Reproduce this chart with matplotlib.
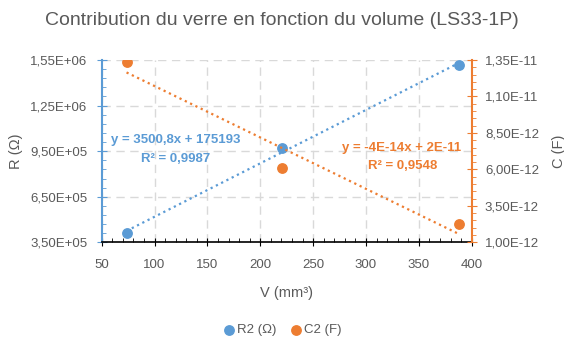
import numpy as np
import matplotlib
matplotlib.use("Agg")
import matplotlib.pyplot as plt
from matplotlib.ticker import FixedLocator, MultipleLocator, FuncFormatter

plt.rcParams['font.family'] = ['Liberation Sans', 'DejaVu Sans']

# données
volume = [73.5, 221, 387.5]
r2 = [4.10e5, 9.72e5, 1.516e6]
c2 = [1.338e-11, 6.07e-12, 2.23e-12]
r_ticks = [3.5e5, 6.5e5, 9.5e5, 1.25e6, 1.55e6]
c_ticks = [1.0e-12, 3.5e-12, 6.0e-12, 8.5e-12, 1.1e-11, 1.35e-11]
eq_r = "y = 3500,8x + 175193"
r2_r = "R² = 0,9987"
eq_c = "y = -4E-14x + 2E-11"
r2_c = "R² = 0,9548"

blue = '#5B9BD5'
orange = '#ED7D31'
grey = '#595959'

def fmt(v, pos):
    return f"{v:.2E}".replace('.', ',')

fig = plt.figure(figsize=(5.64, 3.43), dpi=100)
ax1 = fig.add_axes([0.1803, 0.2936, 0.6561, 0.5314])
ax2 = ax1.twinx()

ax1.scatter(volume, r2, s=46, color=blue, zorder=3, label='R2 (Ω)')
ax2.scatter(volume, c2, s=46, color=orange, zorder=3, label='C2 (F)')

# courbes de tendance linéaires
xs = np.array([min(volume), max(volume)])
p1 = np.polyfit(volume, r2, 1)
p2 = np.polyfit(volume, c2, 1)
ax1.plot(xs, np.polyval(p1, xs), ':', color=blue, lw=1.6)
ax2.plot(xs, np.polyval(p2, xs), ':', color=orange, lw=1.6)

ax1.set_xlim(50, 400)
ax1.set_ylim(r_ticks[0], r_ticks[-1])
ax2.set_ylim(c_ticks[0], c_ticks[-1])
ax1.xaxis.set_major_locator(MultipleLocator(50))
ax1.xaxis.set_minor_locator(MultipleLocator(10))
ax1.yaxis.set_major_locator(FixedLocator(r_ticks))
ax1.yaxis.set_minor_locator(FixedLocator(np.linspace(r_ticks[0], r_ticks[-1], 21)))
ax2.yaxis.set_major_locator(FixedLocator(c_ticks))
ax2.yaxis.set_minor_locator(FixedLocator(np.linspace(c_ticks[0], c_ticks[-1], 26)))
ax1.yaxis.set_major_formatter(FuncFormatter(fmt))
ax2.yaxis.set_major_formatter(FuncFormatter(fmt))

ax1.grid(True, which='major', color='#D9D9D9', ls=(0, (6, 4)), lw=1)
ax1.set_axisbelow(True)

ax1.spines['top'].set_visible(False)
ax2.spines['top'].set_visible(False)
ax1.spines['left'].set_color(blue)
ax1.spines['left'].set_linewidth(1.5)
ax2.spines['left'].set_visible(False)
ax2.spines['right'].set_color(orange)
ax2.spines['right'].set_linewidth(1.5)
ax1.spines['right'].set_visible(False)
ax2.spines['bottom'].set_visible(False)
ax1.spines['bottom'].set_color('black')
ax1.spines['bottom'].set_linewidth(1.2)

ax1.tick_params(axis='x', which='major', direction='inout', length=6, color='black', labelsize=9.5, labelcolor=grey, pad=9)
ax1.tick_params(axis='x', which='minor', direction='in', length=3, color='black')
ax1.tick_params(axis='y', which='major', direction='inout', length=7, color=blue, labelsize=9.5, labelcolor=grey, pad=7)
ax1.tick_params(axis='y', which='minor', direction='in', length=3, color=blue)
ax2.tick_params(axis='y', which='major', direction='inout', length=7, color=orange, labelsize=9.5, labelcolor=grey, pad=6)
ax2.tick_params(axis='y', which='minor', direction='out', length=3, color=orange)

ax1.set_xlabel('V (mm³)', fontsize=10.5, color=grey, labelpad=11)
ax1.set_ylabel('R (Ω)', fontsize=10.5, color=grey, labelpad=5)
ax2.set_ylabel('C (F)', fontsize=10.5, color=grey, labelpad=9)

fig.suptitle('Contribution du verre en fonction du volume (LS33-1P)', y=0.965, fontsize=14, color=grey)

# équations des courbes de tendance
ax1.text(0.201, 0.561, eq_r, transform=ax1.transAxes, color=blue, fontsize=9.5, fontweight='bold', ha='center', va='center')
ax1.text(0.199, 0.457, r2_r, transform=ax1.transAxes, color=blue, fontsize=9.5, fontweight='bold', ha='center', va='center')
ax2.text(0.811, 0.517, eq_c, transform=ax2.transAxes, color=orange, fontsize=9.5, fontweight='bold', ha='center', va='center')
ax2.text(0.813, 0.418, r2_c, transform=ax2.transAxes, color=orange, fontsize=9.5, fontweight='bold', ha='center', va='center')

h1, l1 = ax1.get_legend_handles_labels()
h2, l2 = ax2.get_legend_handles_labels()
fig.legend(h1 + h2, l1 + l2, loc='center', bbox_to_anchor=(0.5, 0.038), ncol=2, frameon=False,
           fontsize=9.5, labelcolor=grey, handletextpad=0.1, columnspacing=1.0, handlelength=1.0)

fig.savefig('out.png', dpi=100)
